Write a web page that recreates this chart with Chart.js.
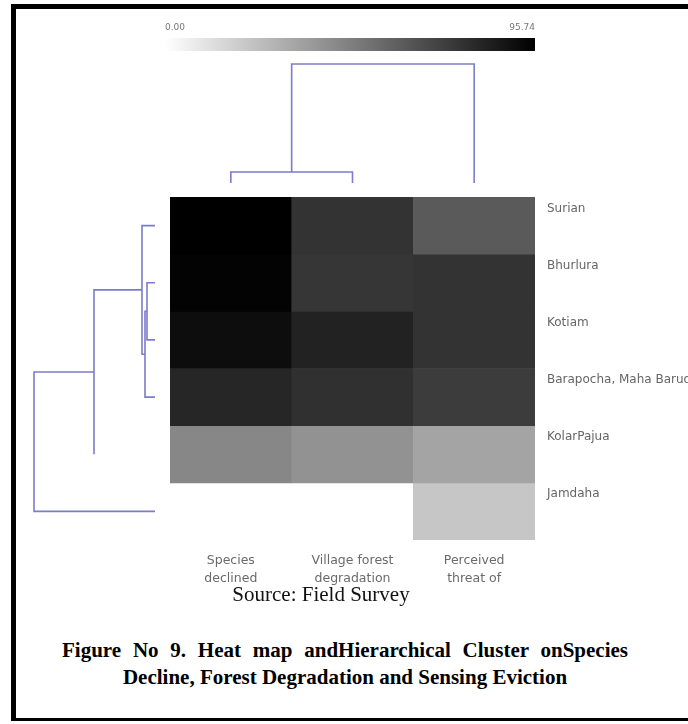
<!DOCTYPE html>
<html><head><meta charset="utf-8">
<script src="https://cdn.jsdelivr.net/npm/chart.js@4.4.1/dist/chart.umd.min.js"></script>
<style>
html,body{margin:0;padding:0;background:#fff;width:688px;height:724px;overflow:hidden;}
#frame{position:absolute;left:11px;top:4px;width:720px;height:717px;border-left:5px solid #000;border-top:5px solid #000;border-bottom:3px solid #000;box-sizing:border-box;}
canvas{position:absolute;}
#src{position:absolute;left:0;width:642px;top:581px;text-align:center;font-family:"Liberation Serif",serif;font-size:21px;color:#111;line-height:26px;}
#cap1{position:absolute;left:62px;width:566px;top:637px;text-align:justify;text-align-last:justify;font-family:"Liberation Serif",serif;font-weight:bold;font-size:21px;color:#000;line-height:27px;white-space:nowrap;}
#cap2{position:absolute;left:0;width:690px;top:664px;text-align:center;font-family:"Liberation Serif",serif;font-weight:bold;font-size:21px;color:#000;line-height:27px;}
</style></head>
<body>
<div id="frame"></div>
<canvas id="heat" width="528" height="413" style="left:160px;top:187px"></canvas>
<canvas id="bar" width="390" height="45" style="left:155px;top:15px"></canvas>
<canvas id="topd" width="385" height="140" style="left:160px;top:53px"></canvas>
<canvas id="leftd" width="141" height="363" style="left:24px;top:187px"></canvas>
<div id="src">Source: Field Survey</div>
<div id="cap1">Figure No 9. Heat map andHierarchical Cluster onSpecies</div>
<div id="cap2">Decline, Forest Degradation and Sensing Eviction</div>
<script>
// ---- data ----
const rows = ['Surian', 'Bhurlura', 'Kotiam', 'Barapocha, Maha Barudi', 'KolarPajua', 'Jamdaha'];
const columns = [['Species', 'declined'], ['Village forest', 'degradation'], ['Perceived', 'threat of']];
const speciesDeclined   = [95.74, 94.6, 90.9, 81.4, 45.0, 0];
const forestDegradation = [76.6, 75.3, 83.0, 77.7, 40.9, 0];
const perceivedThreat   = [61.9, 76.6, 76.6, 73.2, 34.1, 21.4];
const colorMin = 0.00;
const colorMax = 95.74;
// hierarchical clustering merges: [childA, childB, height]; indices >= leaf count are earlier merges
const rowMerges = [[1, 2, 0.8], [6, 3, 1.0], [0, 7, 1.3], [8, 4, 6.1], [9, 5, 12.1]];
const rowHiddenArms = [4];
const colMerges = [[0, 1, 1.1], [3, 2, 11.9]];

const dendroColor = '#7c7cca';
const series = [speciesDeclined, forestDegradation, perceivedThreat];

function gray(v) {
  const t = Math.max(0, Math.min(1, (v - colorMin) / (colorMax - colorMin)));
  const g = Math.round(255 * (1 - t));
  return `rgb(${g},${g},${g})`;
}

Chart.defaults.animation = false;
Chart.defaults.plugins.legend.display = false;
Chart.defaults.plugins.tooltip.enabled = false;
Chart.defaults.font.family = '"DejaVu Sans", sans-serif';

const noPad = s => { s.paddingTop = 0; s.paddingBottom = 0; s.paddingLeft = 0; s.paddingRight = 0; };

// ---- heatmap ----
new Chart(document.getElementById('heat'), {
  type: 'bar',
  data: {
    labels: columns,
    datasets: rows.map((name, r) => ({
      label: name,
      data: columns.map(() => [r, r + 1]),
      backgroundColor: series.map(s => gray(s[r])),
      borderWidth: 0,
      categoryPercentage: 1,
      barPercentage: 1,
      grouped: false
    }))
  },
  options: {
    responsive: false,
    layout: { padding: { left: 10, top: 10, right: 0, bottom: 0 } },
    scales: {
      x: {
        grid: { display: false, drawTicks: false },
        border: { display: false },
        ticks: { color: '#6a6a6a', font: { size: 12.5, lineHeight: 1.4 }, padding: 12, maxRotation: 0, autoSkip: false },
        afterFit: s => { s.height = 60; noPad(s); }
      },
      y: {
        position: 'right', min: 0, max: rows.length, reverse: true,
        grid: { display: false, drawTicks: false },
        border: { display: false },
        afterBuildTicks: s => { s.ticks = rows.map((_, i) => ({ value: i + 0.2 })); },
        ticks: { color: '#666', font: { size: 12 }, padding: 12, autoSkip: false, callback: (v, i) => rows[i] },
        afterFit: s => { s.width = 153; noPad(s); }
      }
    }
  }
});

// ---- colour bar ----
new Chart(document.getElementById('bar'), {
  type: 'bar',
  data: {
    labels: ['scale'],
    datasets: [{
      data: [[colorMin, colorMax]],
      borderWidth: 0, categoryPercentage: 1, barPercentage: 1,
      backgroundColor: ctx => {
        const a = ctx.chart.chartArea;
        if (!a) return '#888';
        const g = ctx.chart.ctx.createLinearGradient(a.left, 0, a.right, 0);
        g.addColorStop(0, gray(colorMin));
        g.addColorStop(1, gray(colorMax));
        return g;
      }
    }]
  },
  options: {
    indexAxis: 'y', responsive: false,
    layout: { padding: { left: 10, right: 10, top: 0, bottom: 9 } },
    scales: {
      x: {
        position: 'top', min: colorMin, max: colorMax,
        grid: { display: false, drawTicks: false }, border: { display: false },
        afterBuildTicks: s => { s.ticks = [{ value: colorMin }, { value: colorMax }]; },
        ticks: { align: 'inner', color: '#777', font: { size: 9 }, padding: 5, callback: v => Number(v).toFixed(2) },
        afterFit: s => { s.height = 23; }
      },
      y: { display: false }
    }
  }
});

// ---- dendrograms ----
function dendroSegments(nLeaves, merges, hidden) {
  const pos = [], hgt = [];
  for (let i = 0; i < nLeaves; i++) { pos.push(i + 0.5); hgt.push(0); }
  const segs = [];
  merges.forEach(([a, b, h]) => {
    const arm = (c) => hidden.includes(c) ? [{ p: pos[c], h: h }] : [{ p: pos[c], h: hgt[c] }, { p: pos[c], h: h }];
    const A = arm(a), B = arm(b);
    segs.push(A.concat(B.reverse()));
    pos.push((pos[a] + pos[b]) / 2);
    hgt.push(h);
  });
  return segs;
}
function dsFrom(segs, horizontal) {
  return segs.map(s => ({
    data: s.map(q => horizontal ? { x: q.h, y: q.p } : { x: q.p, y: q.h }),
    showLine: true, borderColor: dendroColor, borderWidth: 1.6,
    pointRadius: 0, clip: false, tension: 0
  }));
}
new Chart(document.getElementById('topd'), {
  type: 'scatter',
  data: { datasets: dsFrom(dendroSegments(columns.length, colMerges, []), false) },
  options: {
    responsive: false,
    layout: { padding: 10 },
    scales: {
      x: { display: false, min: 0, max: columns.length },
      y: { display: false, min: 0, max: 12 }
    }
  }
});
new Chart(document.getElementById('leftd'), {
  type: 'scatter',
  data: { datasets: dsFrom(dendroSegments(rows.length, rowMerges, rowHiddenArms), true) },
  options: {
    responsive: false,
    layout: { padding: 10 },
    scales: {
      x: { display: false, min: 0, max: 12.1, reverse: true },
      y: { display: false, min: 0, max: rows.length, reverse: true }
    }
  }
});
</script>
</body></html>
